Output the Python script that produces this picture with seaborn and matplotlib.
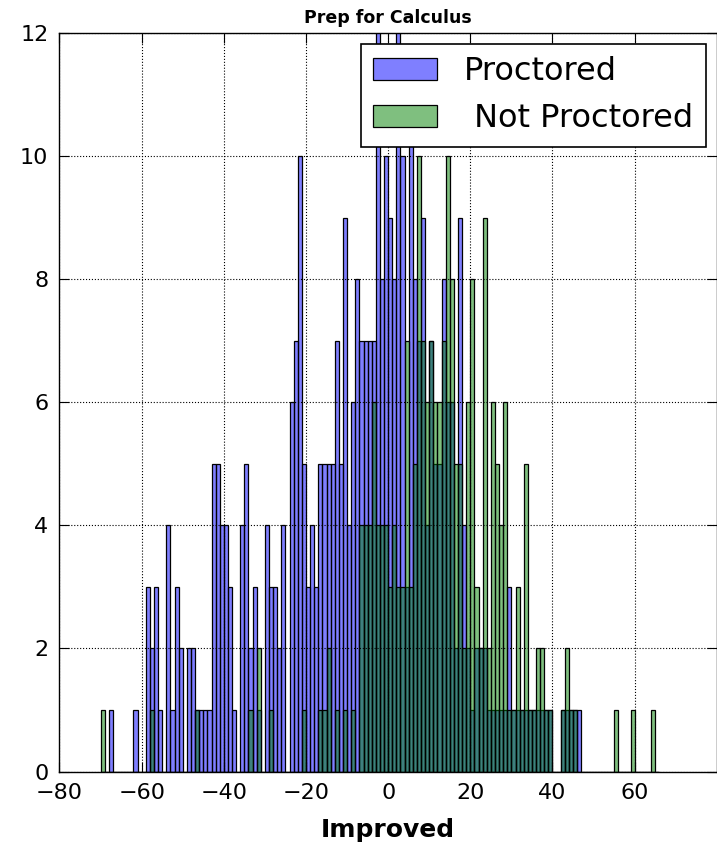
import pandas as pd
import matplotlib
matplotlib.use("Agg")
import matplotlib.pyplot as plt
import seaborn as sns

# ——— Data (1-point bins) ———
proctored_values = [-68, -62, -59, -58, -57, -56, -54, -53, -52, -51, -49, -48, -47, -46, -45, -44,
                    -43, -42, -41, -40, -39, -38, -36, -35, -34, -33, -32, -30, -29, -28, -27, -26,
                    -24, -23, -22, -21, -20, -19, -18, -17, -16, -15, -14, -13, -12, -11, -10, -9,
                    -8, -7, -6, -5, -4, -3, -2, -1, 0, 1, 2, 3, 4, 5, 6, 7, 8, 9, 10, 11, 12, 13,
                    14, 15, 16, 17, 18, 19, 20, 21, 22, 23, 24, 25, 26, 27, 28, 29, 30, 31, 32, 33,
                    34, 35, 36, 37, 38, 39, 42, 43, 44, 45, 46]
proctored_counts = [1, 1, 3, 2, 3, 1, 4, 1, 3, 2, 2, 2, 1, 1, 1, 1,
                    5, 5, 4, 4, 3, 1, 4, 5, 2, 3, 1, 4, 3, 3, 2, 4,
                    6, 7, 10, 5, 3, 4, 3, 5, 5, 5, 5, 7, 5, 9, 4, 6,
                    8, 7, 7, 7, 7, 13, 8, 10, 9, 8, 13, 10, 3, 11, 8, 7, 9, 4, 7, 5, 5, 8,
                    6, 6, 2, 9, 4, 2, 1, 2, 2, 2, 1, 1, 1, 1, 1, 3, 1, 1, 1, 1,
                    1, 1, 1, 1, 1, 1, 1, 1, 1, 1, 1]

not_proctored_values = [-70, -58, -47, -34, -32, -29, -21, -17, -16, -15, -13, -11, -9,
                        -7, -6, -5, -4, -3, -2, -1, 0, 1, 2, 3, 4, 5, 6, 7, 8, 9, 10, 11, 12,
                        13, 14, 15, 16, 17, 18, 19, 20, 21, 22, 23, 24, 25, 26, 27, 28, 29, 30,
                        31, 32, 33, 34, 35, 36, 37, 38, 39, 42, 43, 44, 45, 55, 59, 64]
not_proctored_counts = [1, 1, 1, 1, 2, 1, 1, 1, 1, 2, 1, 1, 1,
                        4, 4, 4, 6, 4, 4, 4, 3, 4, 3, 3, 7, 3, 5, 10, 7, 6, 7, 6, 6,
                        7, 10, 8, 5, 5, 2, 6, 8, 3, 2, 9, 2, 6, 5, 4, 6, 1, 1,
                        3, 1, 5, 1, 1, 2, 2, 1, 1, 1, 2, 1, 1, 1, 1, 1]

x_ticks = [-80, -60, -40, -20, 0, 20, 40, 60]
y_ticks = [0, 2, 4, 6, 8, 10, 12]

proctored = pd.DataFrame({"improved": proctored_values, "count": proctored_counts})
not_proctored = pd.DataFrame({"improved": not_proctored_values, "count": not_proctored_counts})

# ——— Plot ———
fig = plt.figure(figsize=(7.17, 8.48), dpi=100, facecolor="white")
ax = fig.add_axes([59.5 / 717, 1 - 771.5 / 848, (716.8 - 59.5) / 717, (771.5 - 33) / 848])

sns.histplot(data=proctored, x="improved", weights="count", binwidth=1, binrange=(-70, 66),
             color="blue", alpha=0.5, edgecolor="black", linewidth=0.9,
             label="Proctored", ax=ax)
sns.histplot(data=not_proctored, x="improved", weights="count", binwidth=1, binrange=(-70, 66),
             color="green", alpha=0.5, edgecolor="black", linewidth=0.9,
             label=" Not Proctored", ax=ax)

ax.set_xlim(-80, 80)
ax.set_ylim(0, 12)
ax.set_xticks(x_ticks)
ax.set_yticks(y_ticks)
ax.set_axisbelow(False)
ax.grid(True, linestyle=":", color="black", linewidth=0.8)
ax.tick_params(direction="in", top=True, right=True, labelsize=16, length=7, pad=8)
for s in ax.spines.values():
    s.set_color("black")
    s.set_linewidth(1)

ax.set_title("Prep for Calculus", fontsize=12.5, fontweight="bold", pad=7)
ax.set_xlabel("Improved", fontsize=18, fontweight="bold", labelpad=11)
ax.set_ylabel("")

leg = ax.legend(loc="upper right", fontsize=23, fancybox=False, framealpha=1,
                edgecolor="black", handlelength=2.0, handletextpad=0.85,
                borderaxespad=0.33, labelspacing=0.5, borderpad=0.4)
leg.get_frame().set_linewidth(1.2)

fig.savefig("out.png", dpi=100, facecolor="white")
